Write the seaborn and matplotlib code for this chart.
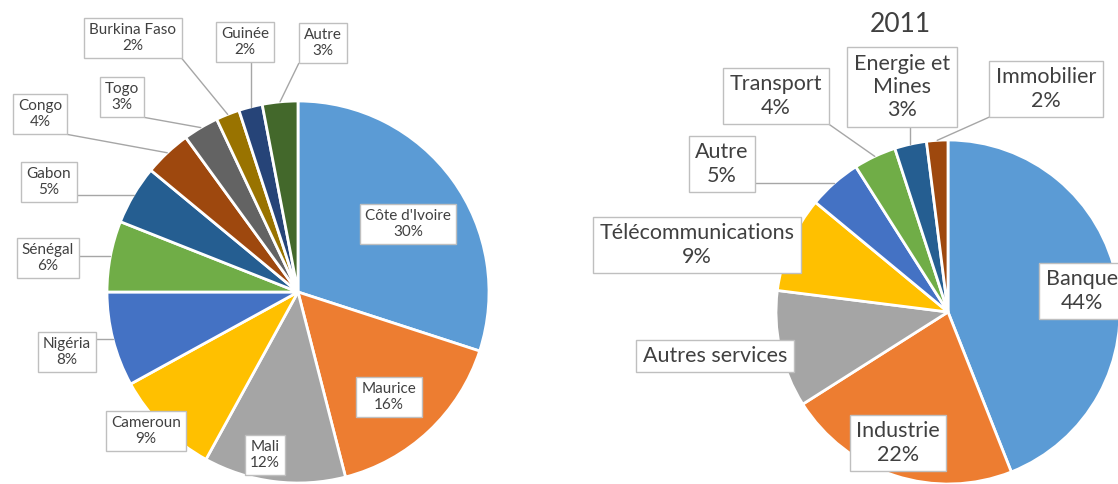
import matplotlib
matplotlib.use("Agg")
import matplotlib.pyplot as plt
import seaborn as sns
import numpy as np

# ---------------- data ----------------
pays = ["Côte d'Ivoire", "Maurice", "Mali", "Cameroun", "Nigéria", "Sénégal",
        "Gabon", "Congo", "Togo", "Burkina Faso", "Guinée", "Autre"]
parts_pays = [30, 16, 12, 9, 8, 6, 5, 4, 3, 2, 2, 3]

secteurs = ["Banque", "Industrie", "Autres services", "Télécommunications",
            "Autre", "Transport", "Energie et Mines", "Immobilier"]
parts_secteurs = [44, 22, 11, 9, 5, 4, 3, 2]
titre_droite = "2011"

# ---------------- style ----------------
office = ["#5B9BD5", "#ED7D31", "#A5A5A5", "#FFC000", "#4472C4", "#70AD47",
          "#255E91", "#9E480E", "#636363", "#997300", "#264478", "#43682B"]

W, H = 1118, 484
sns.set_theme(style="white")
plt.rcParams['font.family'] = ['Lato', 'DejaVu Sans']
fig = plt.figure(figsize=(W / 100, H / 100), dpi=100)
fig.patch.set_facecolor('white')

# label layout (pixel centres) and whether a leader line is drawn
pos_pays = [(408, 224), (389, 397), (265, 455), (146, 431), (67, 352), (48, 258),
            (49, 182), (40, 114), (122, 97), (133, 38), (245, 42), (323, 43)]
lead_pays = [False, False, False, False, True, True, True, True, True, True, True, True]

pos_sect = [(1082, 291), (898, 443), (715, 356), (697, 245), (722, 164),
            (776, 96), (902, 87), (1046, 89)]
lead_sect = [False, False, False, False, True, True, True, True]


def make_labels(names, vals, wrap=None, nopct=()):
    out = []
    for n, v in zip(names, vals):
        txt = wrap.get(n, n) if wrap else n
        out.append(txt if n in nopct else f"{txt}\n{v}%")
    return out


labels_pays = make_labels(pays, parts_pays)
labels_sect = make_labels(secteurs, parts_secteurs,
                          wrap={"Energie et Mines": "Energie et\nMines"},
                          nopct=("Autres services",))

pending = []


def draw_pie(cx, cy, r, values, colors, labels, positions, leaders, fs, pad):
    ax = fig.add_axes([(cx - r) / W, (H - cy - r) / H, 2 * r / W, 2 * r / H])
    wedges, _ = ax.pie(values, colors=colors, startangle=90, counterclock=False,
                       radius=1, wedgeprops=dict(edgecolor='white', linewidth=2))
    ax.set_xlim(-1, 1)
    ax.set_ylim(-1, 1)
    ax.set_aspect('auto')
    ax.axis('off')
    for w, lab, (px, py), lead in zip(wedges, labels, positions, leaders):
        t = ax.text((px - cx) / r, (cy - py) / r, lab, ha='center', va='center',
                    fontsize=fs, color='#404040', linespacing=1.2,
                    bbox=dict(boxstyle=f'square,pad={pad}', fc='white',
                              ec='#BFBFBF', lw=1.0),
                    clip_on=False, zorder=5)
        if lead:
            mid = np.deg2rad((w.theta1 + w.theta2) / 2)
            pending.append((ax, t, (np.cos(mid), np.sin(mid))))
    return ax


axL = draw_pie(298, 292, 191, parts_pays, office[:len(pays)], labels_pays,
               pos_pays, lead_pays, 11, 0.35)
axR = draw_pie(948, 312, 172, parts_secteurs, office[:len(secteurs)], labels_sect,
               pos_sect, lead_sect, 15.5, 0.3)

fig.text(900 / W, 1 - 24 / H, titre_droite, ha='center', va='center',
         fontsize=19, color='#404040')

fig.canvas.draw()
renderer = fig.canvas.get_renderer()
for ax, t, target in pending:
    bb = t.get_bbox_patch().get_window_extent(renderer)
    tx, ty = ax.transData.transform(target)
    sx = min(max(tx, bb.x0), bb.x1)
    sy = min(max(ty, bb.y0), bb.y1)
    inv = ax.transData.inverted()
    (x0, y0), (x1, y1) = inv.transform([(sx, sy), (tx, ty)])
    ax.plot([x0, x1], [y0, y1], color='#A6A6A6', lw=1, clip_on=False, zorder=4)

fig.savefig("out.png", dpi=100, facecolor='white')
